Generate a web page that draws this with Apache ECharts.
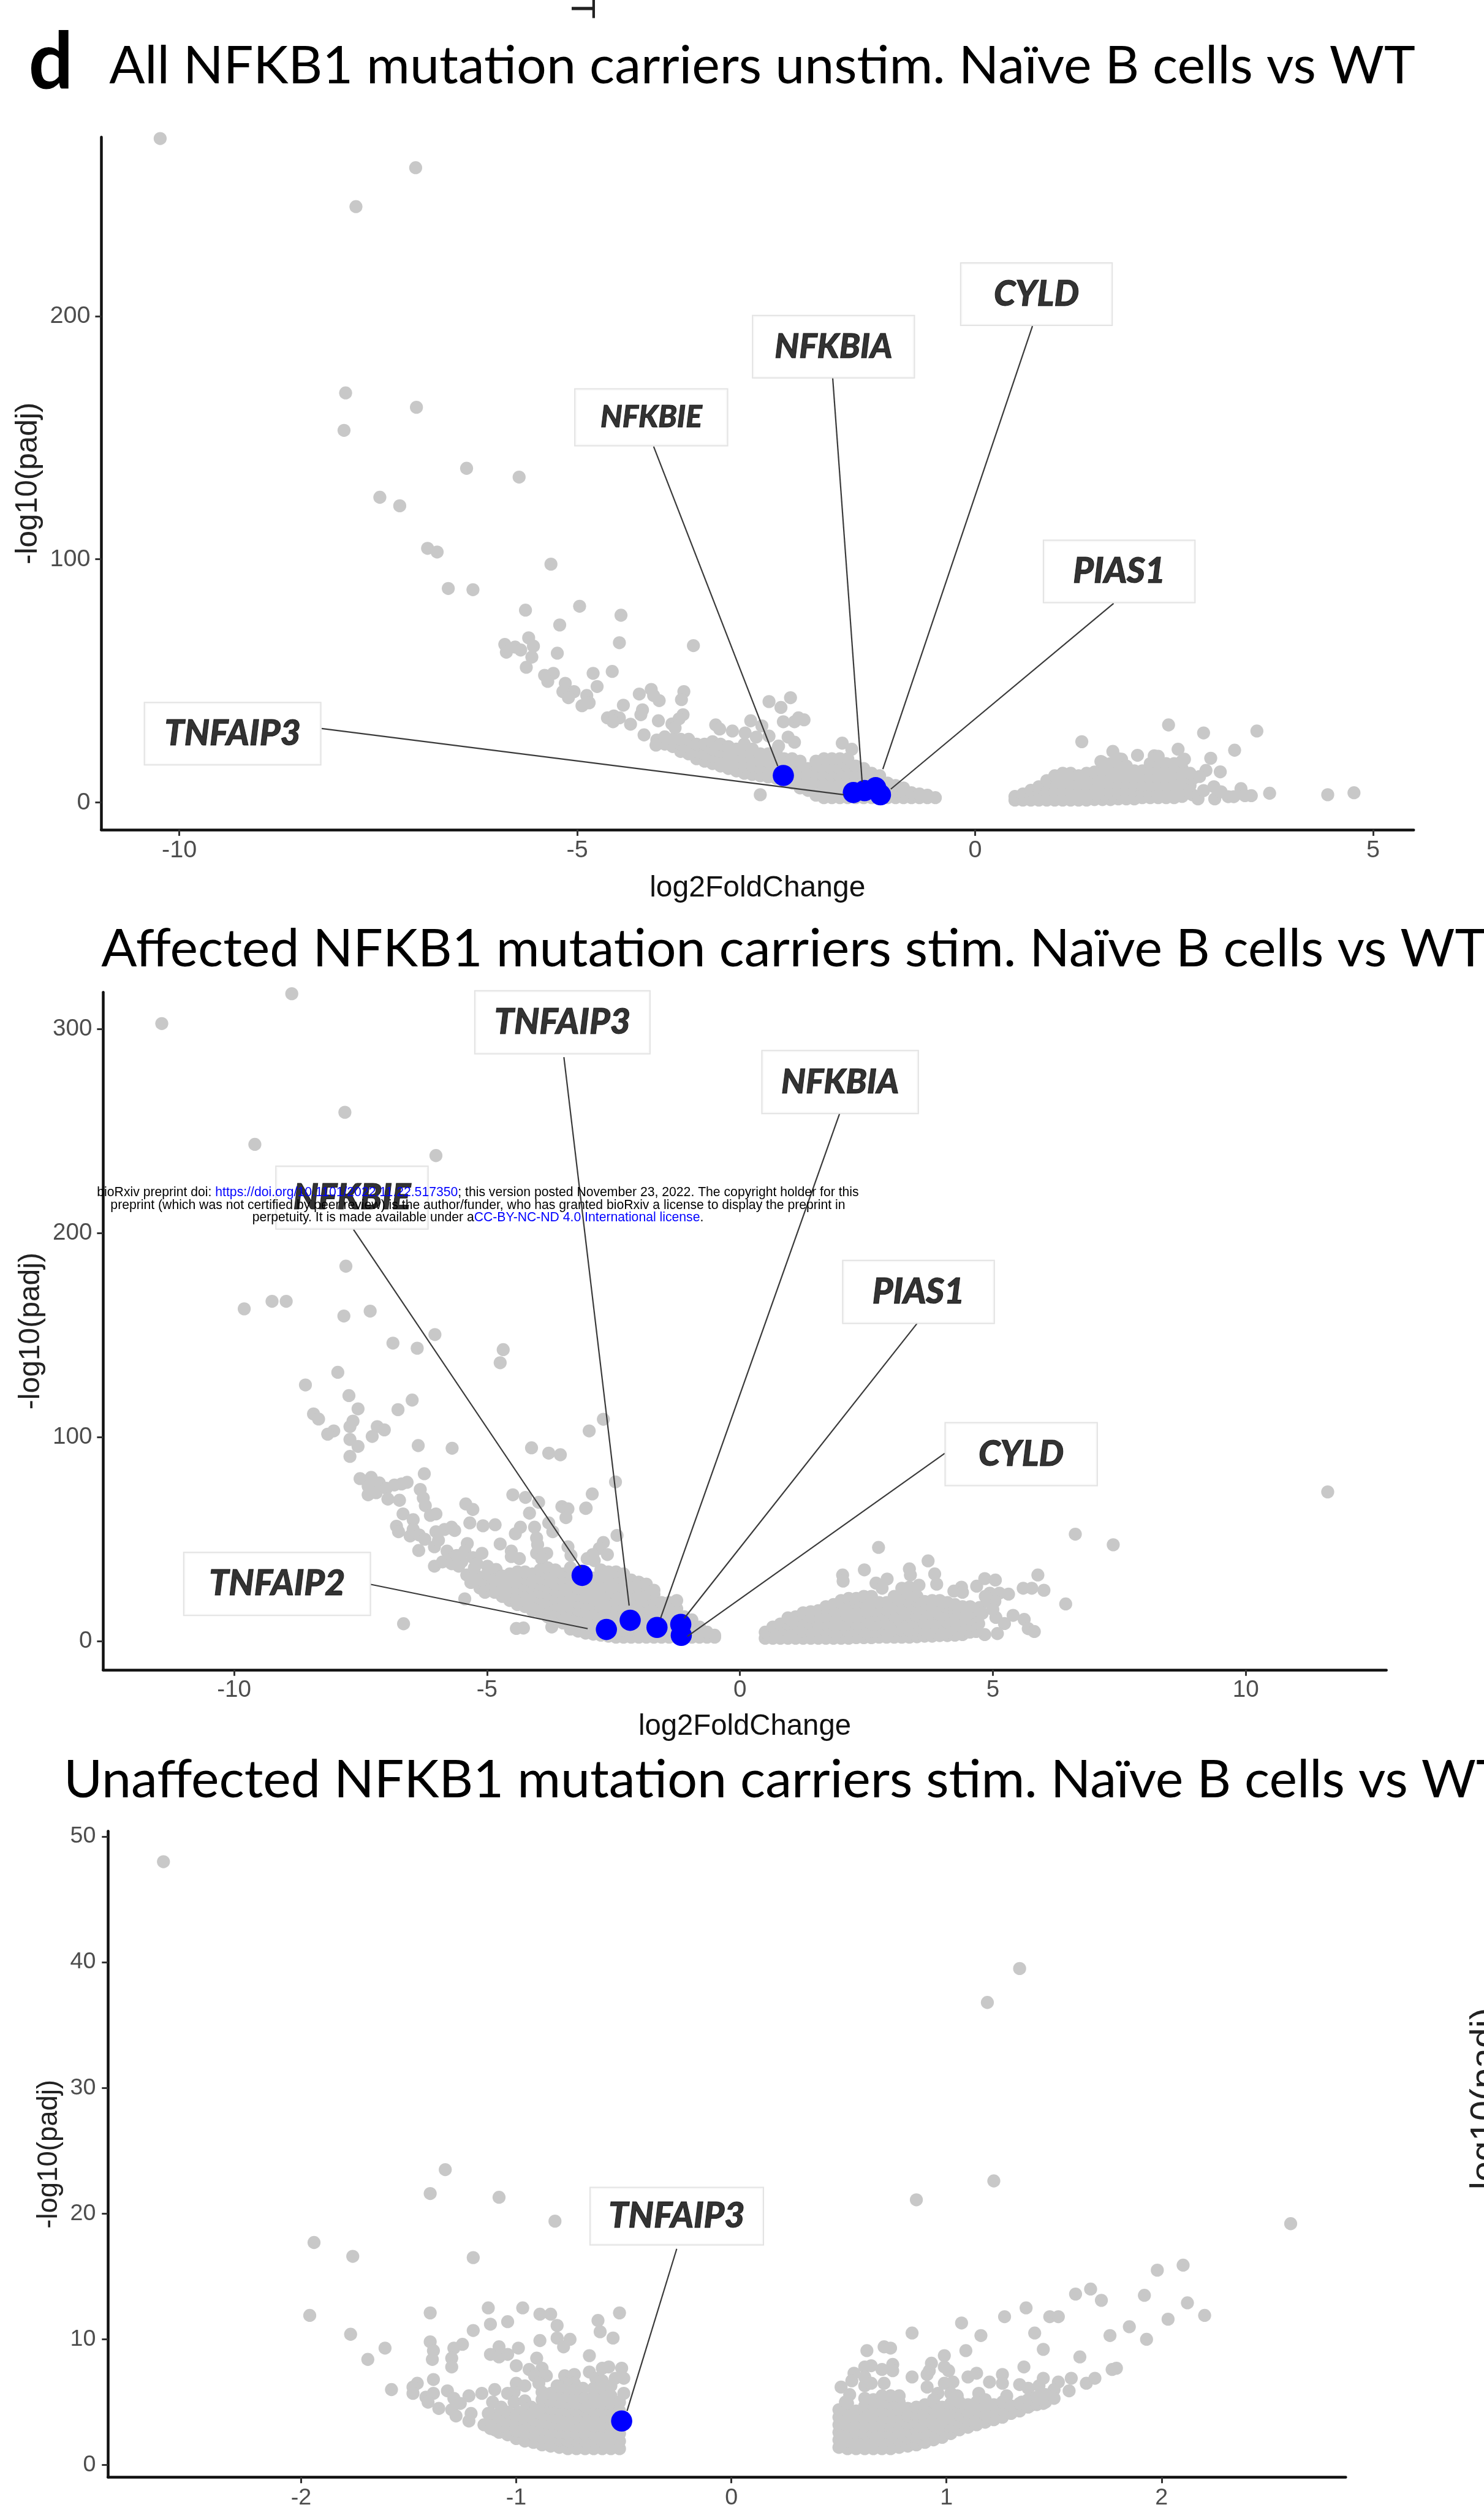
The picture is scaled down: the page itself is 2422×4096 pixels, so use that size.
<!DOCTYPE html>
<html><head><meta charset="utf-8">
<style>html,body{margin:0;padding:0;background:#fff}#c{width:2422px;height:4096px}</style>
<script src="https://cdn.jsdelivr.net/npm/echarts@6/dist/echarts.min.js"></script>
</head><body><div id="c"></div>
<script>
const S = 0.9898;
// ---------- tick labels ----------
const p1XTicks=[-10,-5,0,5], p1YTicks=[0,100,200];
const p2XTicks=[-10,-5,0,5,10], p2YTicks=[0,100,200,300];
const p3XTicks=[-2,-1,0,1,2], p3YTicks=[0,10,20,30,40,50];
// ---------- titles ----------
const titles=["All NFKB1 mutation carriers unstim. Naïve B cells vs WT","Affected NFKB1 mutation carriers stim. Naïve B cells vs WT","Unaffected NFKB1 mutation carriers stim. Naïve B cells vs WT"];
// ---------- panel 1 ----------
const p1Scatter=[[-10.24,273],[-7.03,261],[-7.78,245],[-7.91,168.4],[-7.02,162.5],[-7.93,153],[-6.39,137.4],[-5.73,133.8],[-7.48,125.5],[-7.23,122],[-6.88,104.5],[-6.76,103],[-6.62,88],[-6.31,87.5],[-5.33,98],[-5.65,79.1],[-4.97,80.7],[-4.45,77],[-5.22,73],[-4.47,65.7],[-3.54,64.5],[-5.25,61.4],[-5.91,65],[-5.89,61.8],[-5.78,63.9],[-5.71,62.7],[-5.61,67.7],[-5.55,64.3],[-5.57,59.8],[-5.64,55.6],[-5.41,52.3],[-5.3,53.1],[-5.37,49.8],[-4.8,53.1],[-4.56,53.9],[-4.75,47.7],[-5.15,49],[-5.18,45.6],[-5.04,45.6],[-5.11,43.1],[-4.88,44],[-4.94,39.8],[-4.85,41],[-4.22,44.6],[-4.07,46.5],[-4.04,44],[-3.97,41.9],[-3.66,45.6],[-3.69,42.3],[-4.42,40],[-4.18,38.1],[-4.2,36.1],[-4.62,34.8],[-4.54,35.6],[-4.47,34.8],[-4.55,33.2],[-4.33,32.2],[-3.98,33.6],[-3.67,36.1],[-3.72,34.4],[-3.81,32.3],[-3.77,30.7],[-4.16,27.8],[-4,25.7],[-4.01,23.6],[-3.26,31.9],[-3.21,30.2],[-3.05,29.4],[-2.82,33.6],[-2.68,31.5],[-2.89,28.6],[-2.75,26.9],[-2.59,27.3],[-2.47,23.2],[-2.59,41.5],[-2.32,43.1],[-2.44,39.1],[-2.41,33.2],[-2.27,33.2],[-2.22,34.8],[-2.15,34],[-2.35,26.9],[-2.27,24.8],[-1.67,24.4],[-1.55,21.9],[-2.7,3.2],
[1.34,25],[1.73,21],[1.58,16.9],[2.04,19.4],[2.43,31.9],[2.87,28.6],[3.54,29.4],[3.26,21.5],[2.55,21.9],[2.25,19.2],[2.96,18.2],[3.08,12.6],[2.9,13.2],[2.82,10.7],[2.74,9.9],[2.63,17.8],[1.84,17.8],[2.73,3.2],[2.8,1.5],[2.87,4.9],[3,6.5],[3.01,1.5],[3.09,4.4],[3.18,2.4],[3.25,2.4],[3.34,5.7],[3.39,2.8],[3.47,2.8],[3.7,3.8],[4.43,3.2],[4.76,4]];
const p1LeftColumns=[[-3.9,24,27],[-3.8,23,26],[-3.7,21,24,26],[-3.6,20,23,26],[-3.5,18,21,24],[-3.4,17,20,24],[-3.3,16,19,22,25],[-3.2,15,18,21,24],[-3.1,14,17,20,23],[-3,13,16,19,22],[-2.9,12,15,18,21,24],[-2.8,11.5,15,18,22],[-2.7,11,14,17,20],[-2.6,10.5,13.5,17,20],[-2.5,10,13,16,19,21],[-2.4,9,12,15,18],[-2.3,8,11,14,18],[-2.2,6,9,12,15,17],[-2.1,5,8,11,14],[-2,3,6,9,12,15,17],[-1.9,2,5,8,11,14,18],[-1.8,2,5,8,11,14,18],[-1.7,2,5,8,11,14,18],[-1.6,2,5,8,11,15,18],[-1.5,2,5,8,11,15],[-1.4,2,5,8,11,14],[-1.3,2,5,8,12],[-1.2,2,5,8,11],[-1.1,2,5,8],[-1,2,5,7],[-0.9,2,4.5,6],[-0.8,2,4],[-0.7,2,3.5],[-0.6,2,3],[-0.5,2]];
const p1RightColumns=[[0.5,1,2.5],[0.6,1,3.5],[0.7,1,3.5,5],[0.8,1,4,6.5],[0.9,1,4,7,9],[1,1,4,7,10,11],[1.1,1,4,7,10,12],[1.2,1,4,7,10,12],[1.3,1,4,7,10,11],[1.4,1,4,7,10,12],[1.5,1.2,4,7,10,12.5],[1.6,1.2,4,7,10,13,16.5],[1.7,1.2,4,7,10,13,16],[1.8,1.5,4,7,10,13,16,18],[1.9,1.5,4,7,10,13,15],[2,1.5,4,7,10,13],[2.1,2,4,7,10,13],[2.2,2,4,7,10,13,16],[2.3,2,4,7,10,13,16,19],[2.4,2,4,7,10,13,16],[2.5,2,4,7,10,13,16],[2.6,2.5,5,8,11,14,17],[2.7,4,7,10,12]];
const p1Blue=[[-2.41,11.1],[-1.53,4.1],[-1.39,4.9],[-1.25,6.1],[-1.19,3.2]];
const p1Notes=[
 {gene:"TNFAIP3",at:[-9.33,28.3],from:[-8.21,30.4],to:[-1.65,3.2]},
 {gene:"NFKBIE",at:[-4.07,158.4],from:[-4.04,146.4],to:[-2.48,15]},
 {gene:"NFKBIA",at:[-1.78,187.4],from:[-1.79,174.6],to:[-1.42,8.5]},
 {gene:"CYLD",at:[0.77,209],from:[0.72,195.9],to:[-1.16,13.7]},
 {gene:"PIAS1",at:[1.81,95],from:[1.74,81.9],to:[-1.06,5.5]}];
// ---------- panel 2 ----------
const p2Scatter=[[-11.43,302.7],[-8.86,317.3],[-7.81,259.2],[-9.59,243.5],[-6.01,238],[-7.79,183.8],[-9.8,162.9],[-9.25,166.6],[-8.97,166.6],[-7.83,159.4],[-7.31,161.8],[-6.86,146.1],[-6.38,143.6],[-6.03,150.3],[-4.68,142.9],[-4.74,136.5],[-7.95,131.8],[-8.59,125.6],[-7.73,120.4],[-6.48,118.2],[-6.76,113.5],[-7.55,113.9],[-8.43,111.4],[-8.33,108.9],[-7.65,107.9],[-7.71,105.2],[-8.03,103.1],[-8.15,101.5],[-7.17,105.2],[-7.03,103.6],[-7.27,100.4],[-7.71,98.9],[-7.55,95.5],[-7.71,90.6],[-6.36,95.9],[-5.69,94.6],[-4.12,94.8],[-3.78,92.2],[-3.55,91.4],[-2.98,103.1],[-2.7,108.8],[-2.46,78.1],[-2.92,72.2],[-3.04,65.3],
[-6.24,82.1],[-7.51,79.7],[-7.29,80.3],[-7.13,77.6],[-7.35,76],[-7.35,71.8],[-7.19,72.8],[-6.99,75],[-6.83,76.6],[-6.69,77.1],[-6.58,77.9],[-6.96,69.7],[-6.73,69.1],[-6.32,74.4],[-6.26,70.2],[-6.22,66.5],[-6.12,61.7],[-6.01,62.4],[-6.66,62.4],[-6.46,59.6],[-6.79,56.4],[-6.75,53.7],[-6.46,54.8],[-6.52,51.6],[-6.34,52.1],[-6.23,50],[-6.35,44.5],[-6.01,53.7],[-5.84,54.8],[-5.7,55.9],[-5.64,54.3],[-5.42,67.3],[-5.28,64.6],[-5.34,58],[-5.08,56.6],[-4.84,57.1],[-5.39,47.9],[-5.44,44.2],[-5.1,43.1],[-5.28,41],[-4.74,47.7],[-4.49,71.8],[-4.24,70.5],[-3.98,68.1],[-4.16,62.8],[-3.78,58],[-3.7,53.7],[-4.06,55.9],[-4.34,55.9],[-4.44,52.7],[-4.02,50.6],[-4,47.4],[-4.02,43.1],[-3.82,43.1],[-3.92,40.5],[-3.52,66],[-3.4,64.9],[-3.44,60.6],[-3.05,65.1],[-3.4,46.3],[-3.34,42.1],[-4.52,44.2],[-4.52,41.5],[-4.36,40.5],[-4.82,35.2],[-4.99,36.8],[-6.04,46.3],[-5.96,49.5],[-5.79,44.2],[-5.66,41],[-6.04,36.8],[-5.88,38.9],[-5.56,36.8],[-5.4,32.5],[-5.32,28.8],[-5.14,26.1],[-5.04,29.3],[-5.04,24],[-4.88,28],[-5.44,20.8],[-6.65,8.6],[-4.42,6.3],[-4.28,6.5],[-3.72,7],[-2.7,48.4],[-2.78,45.5],[-2.91,42.5],[-2.62,42.5],[-2.43,51.9],[-3.02,40.5],[-2.88,39.5],[-5.2,32],[-5.1,30],[-4.95,31],[-5.25,36],[-5.5,39],[-5.7,38],[-5.6,42],[-5.2,38],[-5,33],[-4.9,26],
[2.74,46],[2.46,35],[2.03,32.5],[2.04,29.5],[2.69,28.5],[2.81,26],[2.91,30.5],[3.35,35.5],[3.37,32.5],[3.72,39.4],[3.54,27.5],[3.85,33],[3.89,28],[4.23,24.6],[4.38,26.5],[4.4,24],[4.68,27],[4.84,30.7],[5.05,30],[4.94,23.6],[5.13,23.6],[5.31,23.1],[4.99,17.6],[5.06,11.7],[5.23,8.7],[5.09,3.8],[4.84,3.3],[5.4,12.7],[5.62,10.7],[5.7,6.2],[5.82,4.8],[5.6,26],[5.77,26],[5.89,32.5],[6.01,25],[6.44,18.3],[6.63,52.5],[7.38,47.3],[11.62,73.2],[4.74,16.6],[4.89,19.6],[5.04,19.6],[4.79,13.7],[4.72,8.7],[4.67,4.8],[5,15.6],[4.7,12],[4.85,22]];
const p2LeftColumns=[[-4.85,24,27,30],[-4.7,22,25,29,32],[-4.55,20,23,26,30,33],[-4.4,18,21,25,28,32,34],[-4.25,17,20,24,27,31,34],[-4.1,15,19,22,26,29,33],[-3.95,14,17,21,24,28,31,35],[-3.8,12,16,19,23,26,30,33,36],[-3.65,11,14,18,21,25,28,32,35],[-3.5,9,13,16,20,23,27,30,33],[-3.35,6,9.5,13,16.5,20,23.5,27,30,33,36],[-3.2,5,8.5,12,15.5,19,22.5,26],[-3.05,4,7.5,11,14.5,18,21.5,25,29],[-2.9,3.5,7,10.5,14,17.5,21,24.5,28,31],[-2.75,3,6.5,10,13.5,17,20.5,24,27.5,31,35],[-2.6,2.5,6,9.5,13,16.5,20,23.5,27,30.5,34],[-2.45,2,5.5,9,12.5,16,19.5,23,26.5,30,34],[-2.3,2,5.5,9,12.5,16,19.5,23,26.5,30,33],[-2.15,2,5.5,9,12.5,16,19.5,23,26.5,30],[-2,2,5.5,9,12.5,16,19.5,23,26.5,29],[-1.85,2,5.5,9,12.5,16,19.5,23,26,28],[-1.7,2,5.5,9,12.5,16,19.5,23,25],[-1.55,2,5.5,9,12.5,16,19],[-1.4,2,5.5,9,12.5,16,19],[-1.25,2,5.5,9,12.5,16,20],[-1.1,2,5.5,9,12],[-0.95,2,5.5,9,10.5],[-0.8,2,5,7],[-0.65,2,4.5],[-0.5,2,3]];
const p2RightColumns=[[0.5,1.5,4.5],[0.65,1.5,5,7],[0.8,1.5,5,8.5],[0.95,1.5,5,8.5,11.5],[1.1,1.5,5,8.5,12],[1.25,1.5,5,8.5,12,14],[1.4,1.5,5,8.5,12,14.5],[1.55,1.5,5,8.5,12,15],[1.7,1.5,5,8.5,12,15.5,17],[1.85,1.5,5,8.5,12,15.5,18],[2,1.5,5,8.5,12,15.5,19,20],[2.15,1.5,5,8.5,12,15.5,19,21],[2.3,1.8,5,8.5,12,15.5,19,21],[2.45,1.8,5,8.5,12,15.5,19,22],[2.6,1.8,5,8.5,12,15.5,19,22],[2.75,2,5,8.5,12,15.5,19],[2.9,2,5,8.5,12,15.5,19],[3.05,2,5.5,9,12.5,16,19.5,22],[3.2,2,5.5,9,12.5,16,19.5,23,26],[3.35,2,5.5,9,12.5,16,19.5,23,26.5],[3.5,2.2,5.5,9,12.5,16,19.5,22],[3.65,2.5,5.5,9,12.5,16,19.5],[3.8,2.5,6,9.5,13,16.5,20],[3.95,2.8,6,9.5,13,16.5,20],[4.1,2.8,6,9.5,13,16.5,19],[4.25,3,6,9.5,13,16.5,18],[4.4,3.3,6.5,10,13.5,17],[4.55,4.5,8,11,14,17]];
const p2Blue=[[-3.12,32.3],[-2.17,10.3],[-2.64,5.8],[-1.64,6.8],[-1.17,8.3],[-1.16,2.9]];
const p2Notes=[
 {gene:"TNFAIP3",at:[-3.51,303.3],from:[-3.48,286.2],to:[-2.19,17.5]},
 {gene:"NFKBIA",at:[1.98,274],from:[1.97,258.5],to:[-1.57,11.3]},
 {gene:"NFKBIE",at:[-7.67,217.4],from:[-7.64,201.8],to:[-3.14,36]},
 {gene:"PIAS1",at:[3.53,171.2],from:[3.5,155.7],to:[-1.1,11.3]},
 {gene:"CYLD",at:[5.56,91.7],from:[4.05,92.1],to:[-1.04,2.4]},
 {gene:"TNFAIP2",at:[-9.15,28.1],from:[-7.3,27.9],to:[-3.01,6.2]}];
// ---------- panel 3 ----------
const p3Scatter=[[-2.64,48],[1.34,39.5],[1.19,36.8],[-1.33,23.5],[-1.4,21.6],[-1.08,21.3],[-0.82,19.4],[1.22,22.6],[0.86,21.1],[2.6,19.2],[-1.94,17.7],[-1.76,16.6],[-1.2,16.5],[-1.96,11.9],[-1.77,10.4],[-1.61,9.3],[-1.69,8.4],[-1.58,6],
[-1.4,12.1],[-1.13,12.5],[-0.97,12.5],[-0.89,12],[-0.84,12],[-0.81,11.1],[-0.62,11.5],[-0.52,12.1],[-0.61,10.6],[-0.55,10.1],[-1.12,11.2],[-1.04,11.4],[-1.2,10.7],[-0.89,9.9],[-0.81,10.1],[-0.75,10],[-0.78,9.4],[-0.66,8.7],[-1.4,9.8],[-1.385,9.1],[-1.39,8.4],[-1.25,9.6],[-1.29,9.3],[-1.3,8.5],[-1.3,7.8],[-1.385,6.8],[-1.08,9.4],[-1.12,8.8],[-1.08,8.6],[-1.04,8.8],[-0.99,9.3],[-0.905,8.5],[-1,7.9],[-1.46,6.5],[-1.48,6.2],[-1.48,5.7],[-1.42,5.4],[-1.385,5.7],[-1.41,5],[-1.36,4.5],[-1.32,5.9],[-1.29,5.3],[-1.22,5.5],[-1.26,4.9],[-1.3,4.4],[-1.28,3.9],[-1.16,5.7],[-1.1,6],[-1.11,5],[-1.07,4.6],[-1.21,4.1],[-1.22,3.5],[-1.13,4.1],[-1.15,3.2],[-1.1,2.8],[-1.04,5.7],[-1,6.5],[-1.01,5.8],[-0.96,6.3],[-1.01,5],[-0.96,5.1],[-0.93,4.6],[-0.99,4.2],[-0.94,7.6],[-0.88,7.7],[-0.915,7.1],[-0.86,7.1],[-0.895,6.5],[-0.775,7.1],[-0.73,7.2],[-0.69,6.1],[-0.81,6.3],[-0.775,6.5],[-0.73,6.5],[-0.66,7.4],[-0.6,7.7],[-0.57,7.8],[-0.51,7.7],[-0.63,6.9],[-0.54,6.9],[-0.5,6.9],[-0.5,5.7],
[2.1,15.9],[1.98,15.5],[1.67,14],[1.6,13.6],[1.72,13.1],[1.92,13.5],[2.12,12.9],[2.2,11.9],[2.03,11.6],[1.85,11],[1.76,10.3],[1.93,10],[1.37,12.5],[1.27,11.8],[1.48,11.8],[1.52,11.8],[1.07,11.3],[0.84,10.5],[1.16,10.3],[1.41,10.5],[1.45,9.2],[1.09,9.1],[1.62,8.6],[1.36,7.8],[0.63,9.1],[0.71,9.4],[0.74,9.3],[0.99,8.7],[0.93,8.1],[0.99,7.8],[1.01,7.5],[0.92,7.5],[0.91,7.2],[0.84,7],[0.75,8],[0.75,7.5],[0.7,7.6],[0.65,7.9],[0.62,7.8],[0.57,7.3],[0.56,6.7],[0.51,6.2],[0.62,7],[0.62,6.3],[0.65,6.5],[0.71,6.5],[0.91,6.2],[0.96,5.7],[0.99,6.5],[1.03,6.6],[1.05,5.5],[0.94,5.2],[1.02,5.7],[1.14,7.3],[1.1,7],[1.26,7.2],[1.2,6.6],[1.26,6.5],[1.15,5.7],[1.34,6.4],[1.38,6.1],[1.45,6.9],[1.43,6.3],[1.52,6.6],[1.58,6.9],[1.57,5.9],[1.65,6.5],[1.69,6.9],[1.77,7.6],[1.79,7.7],[1.5,6],[1.5,5.3],[1.45,4.9],[1.4,4.8],[1.35,5],[1.28,5.5],[0.55,5.6],[0.53,5]];
const p3LeftColumns=[[-1.12,2.9,3.5,4.1],[-1.08,2.6,3.2,3.8],[-1.04,2.4,3,3.6,4.2],[-1,2.1,2.7,3.3,3.9],[-0.96,1.9,2.5,3.1,3.7,4.3],[-0.92,1.8,2.4,3,3.6,4.2],[-0.88,1.6,2.2,2.8,3.4,4,4.6,5.2,5.8],[-0.84,1.5,2.1,2.7,3.3,3.9,4.5,5.1,5.7],[-0.8,1.4,2,2.6,3.2,3.8,4.4,5,5.6,6.2],[-0.76,1.3,1.9,2.5,3.1,3.7,4.3,4.9,5.5,6.1],[-0.72,1.3,1.9,2.5,3.1,3.7,4.3,4.9,5.5,6.1],[-0.68,1.3,1.9,2.5,3.1,3.7,4.3,4.7,5.3],[-0.64,1.3,1.9,2.5,3.1,3.7,4.3,4.9,5.5,6.1],[-0.6,1.3,1.9,2.5,3.1,3.7,4.3,4.9,5.5,6.1,6.7],[-0.56,1.3,1.9,2.5,3.1,3.7,4.3,4.9,5.5,6.3],[-0.52,1.3,1.9,2.5,3.1,3.7,4.3,5]];
const p3RightColumns=[[0.5,1.4,2,2.6,3.2,3.8,4.4],[0.54,1.3,1.9,2.5,3.1,3.7,4.3,4.9],[0.58,1.3,1.9,2.5,3.1,3.7,4.3],[0.62,1.3,1.9,2.5,3.1,3.7,4.3,4.7,5.3],[0.66,1.3,1.9,2.5,3.1,3.7,4.3,4.8,5.2],[0.7,1.3,1.9,2.5,3.1,3.7,4.3,4.9,5.5],[0.74,1.3,1.9,2.5,3.1,3.7,4.3,4.9,5.5],[0.78,1.4,2,2.6,3.2,3.8,4.4,5,5.5],[0.82,1.5,2.1,2.7,3.3,3.9,4.5],[0.86,1.6,2.2,2.8,3.4,4,4.6],[0.9,1.8,2.4,3,3.6,4.2,4.8],[0.94,2,2.6,3.2,3.8,4.4,5],[0.98,2.2,2.8,3.4,4,4.6],[1.02,2.5,3.1,3.7,4.3,4.9],[1.06,2.8,3.4,4,4.6,5],[1.1,3,3.6,4.2,4.8],[1.14,3.2,3.8,4.4,5],[1.18,3.4,4,4.6,5.2],[1.22,3.6,4.2,4.8],[1.26,3.8,4.4,5],[1.3,4.1,4.7],[1.34,4.3,4.9],[1.38,4.6,5.2],[1.42,4.8,5.4],[1.46,5,5.6]];
const p3Blue=[[-0.51,3.5]];
const p3Notes=[{gene:"TNFAIP3",at:[-0.254,19.8],from:[-0.254,17.2],to:[-0.485,4.3]}];
// ---------- notice text ----------
const notice=["bioRxiv preprint doi: {b|https://doi.org/10.1101/2022.11.22.517350}; this version posted November 23, 2022. The copyright holder for this","preprint (which was not certified by peer review) is the author/funder, who has granted bioRxiv a license to display the preprint in","perpetuity. It is made available under a{b|CC-BY-NC-ND 4.0 International license}."];

// ---------- layout & style (reference px, scaled by S) ----------
const GRAY='#c8c8c8', BLUE='#0000ff';
const panels=[
 {box:[167,226,2331,1368],x:[-10.98,5.51],y:[-11.2,273.6],xt:p1XTicks,yt:p1YTicks,xName:'log2FoldChange',xGap:72,yGap:88,yFont:50,xFont:48.5,tick:40,
  pts:[p1Scatter,p1LeftColumns,p1RightColumns],blue:p1Blue,notes:p1Notes,h:{TNFAIP3:101,NFKBIE:92,NFKBIA:101,CYLD:101,PIAS1:101},
  w:{TNFAIP3:289,NFKBIE:250,NFKBIA:265,CYLD:248,PIAS1:248},f:{TNFAIP3:58,NFKBIE:50,NFKBIA:56,CYLD:58,PIAS1:58}},
 {box:[170,1636,2286,2753],x:[-12.59,12.78],y:[-13.97,318],xt:p2XTicks,yt:p2YTicks,xName:'log2FoldChange',xGap:70,yGap:90,yFont:48.5,xFont:47.8,tick:39,
  pts:[p2Scatter,p2LeftColumns,p2RightColumns],blue:p2Blue,notes:p2Notes,h:{TNFAIP3:102,NFKBIE:102,NFKBIA:102,CYLD:102,PIAS1:102,TNFAIP2:102},
  w:{TNFAIP3:287,NFKBIE:249,NFKBIA:256,CYLD:249,PIAS1:248,TNFAIP2:306},f:{TNFAIP3:58,NFKBIE:58,NFKBIA:56,CYLD:58,PIAS1:58,TNFAIP2:58}},
 {box:[178,3019,2219,4084],x:[-2.898,2.856],y:[-0.965,50.43],xt:p3XTicks,yt:p3YTicks,xName:'',xGap:60,yGap:70,yFont:46,xFont:46,tick:38,
  pts:[p3Scatter,p3LeftColumns,p3RightColumns],blue:p3Blue,notes:p3Notes,h:{TNFAIP3:93},
  w:{TNFAIP3:284},f:{TNFAIP3:58}}
];
function points(p){
  const out=[...p.pts[0]];
  [p.pts[1],p.pts[2]].forEach(cols=>cols.forEach(c=>c.slice(1).forEach(y=>out.push([c[0],y]))));
  return out;
}
const grid=[],xAxis=[],yAxis=[],series=[];
panels.forEach((p,i)=>{
  const [l,t,r,b]=p.box;
  grid.push({left:l*S,top:t*S,width:(r-l)*S,height:(b-t)*S,containLabel:false});
  const tick={length:10*S,lineStyle:{color:'#333',width:3}};
  const axLine={onZero:false,lineStyle:{color:'#111',width:4.5}};
  xAxis.push({type:'value',gridIndex:i,min:p.x[0],max:p.x[1],splitLine:{show:false},axisLine:axLine,
    axisTick:{show:true,customValues:p.xt,...tick},
    axisLabel:{customValues:p.xt,color:'#4d4d4d',fontFamily:'Liberation Sans',fontSize:p.tick*S,margin:(i==2?15:14)*S},
    name:p.xName,nameLocation:'middle',nameGap:p.xGap*S,nameTextStyle:{color:'#111',fontFamily:'Liberation Sans',fontSize:p.xFont*S}});
  yAxis.push({type:'value',gridIndex:i,min:p.y[0],max:p.y[1],splitLine:{show:false},axisLine:axLine,
    axisTick:{show:true,customValues:p.yt,...tick},
    axisLabel:{customValues:p.yt,color:'#4d4d4d',fontFamily:'Liberation Sans',fontSize:p.tick*S,margin:(i==2?20:18)*S},
    name:'-log10(padj)',nameLocation:'middle',nameRotate:90,nameGap:p.yGap*S,nameTextStyle:{color:'#222',fontFamily:'Liberation Sans',fontSize:p.yFont*S}});
  series.push({type:'scatter',xAxisIndex:i,yAxisIndex:i,data:points(p),symbol:'circle',symbolSize:21.5*S,itemStyle:{color:GRAY,opacity:1},clip:true,silent:true,z:2,large:false,progressive:0});
  series.push({type:'scatter',xAxisIndex:i,yAxisIndex:i,data:p.blue,symbol:'circle',symbolSize:35*S,itemStyle:{color:BLUE,opacity:1},clip:true,silent:true,z:3,progressive:0});
  series.push({type:'scatter',xAxisIndex:i,yAxisIndex:i,data:p.notes.map(n=>({value:n.at,
      label:{show:true,position:'inside',formatter:n.gene,width:p.w[n.gene]*S,height:p.h[n.gene]*S,lineHeight:p.h[n.gene]*S,align:'center',verticalAlign:'middle',
        backgroundColor:'#fff',borderColor:'#dcdcdc',borderWidth:2,fontFamily:'Lato',fontStyle:'italic',fontWeight:900,color:'#000',textBorderColor:'#000',textBorderWidth:1,fontSize:p.f[n.gene]*S}})),
    symbol:'circle',symbolSize:1,itemStyle:{color:'rgba(0,0,0,0)'},clip:false,silent:true,z:5,
    markLine:{silent:true,symbol:'none',animation:false,z:4,label:{show:false},lineStyle:{color:'#3a3a3a',width:2.2,type:'solid'},
      data:p.notes.map(n=>[{coord:n.from},{coord:n.to}])}});
});
const graphic=[];
const T=(text,x,y,o)=>graphic.push({type:'text',x:x*S,y:y*S,z:1000,zlevel:1,silent:true,rotation:o.rotation||0,scaleX:o.sx||1,
  style:{text,fontFamily:o.family||'Lato',fontSize:o.size*S,fontWeight:o.weight||'normal',fill:o.fill||'#000',align:o.align||'left',verticalAlign:'middle',rich:o.rich}});
T('d',47,104,{size:130,weight:'bold'});
T('T',958,14,{size:56,family:'Liberation Sans',rotation:-Math.PI/2,align:'center',fill:'#222'});
T(titles[0],180,109,{size:87});
T(titles[1],167,1565,{size:87});
T(titles[2],105,2935,{size:87});
T('-log10(padj)',2450,3470,{size:60,family:'Liberation Sans',rotation:Math.PI/2,align:'center',fill:'#222'});
const rich={b:{fill:BLUE,fontFamily:'Liberation Sans',fontSize:21.4*S}};
notice.forEach((n,i)=>T(n,788,1966+i*21,{size:21.4,family:'Liberation Sans',align:'center',rich}));

const chart=echarts.init(document.getElementById('c'),null,{renderer:'canvas',width:2422,height:4096});
chart.setOption({animation:false,backgroundColor:'#fff',grid,xAxis,yAxis,series,graphic});
</script></body></html>
